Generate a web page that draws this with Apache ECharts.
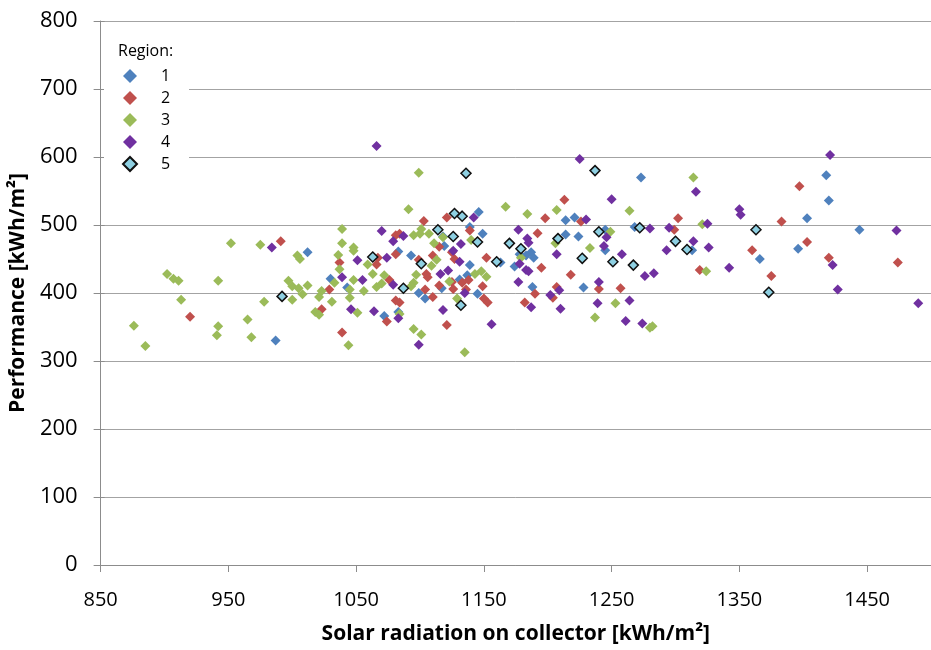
<!DOCTYPE html>
<html>
<head>
<meta charset="utf-8">
<title>Performance vs solar radiation</title>
<script src="https://cdn.jsdelivr.net/npm/echarts@6/dist/echarts.min.js"></script>
<style>
  html, body { margin: 0; padding: 0; background: #fff; }
  #chart { width: 931px; height: 650px; }
</style>
</head>
<body>
<div id="chart"></div>
<script>
// Solar radiation on collector [kWh/m²] vs performance [kWh/m²], one series per region
const region1 = [[987,330],[1012,460],[1146,519],[1118,483],[1139,497],[1149,487],[1083,461],[1030,421],[1043,408],[1093,455],[1119,469],[1139,441],[1137,426],[1131,420],[1117,407],[1099,400],[1104,392],[1145,399],[1072,366],[1083,372],[1273,570],[1214,507],[1221,511],[1178,457],[1187,460],[1189,452],[1183,455],[1174,439],[1188,409],[1214,486],[1224,483],[1245,493],[1245,463],[1268,497],[1313,463],[1228,408],[1163,445],[1418,573],[1420,536],[1403,510],[1444,493],[1396,465],[1366,450]];

const region2 = [[920,365],[991,476],[1121,511],[1103,506],[1081,485],[1084,487],[1139,492],[1037,445],[1067,452],[1066,442],[1081,457],[1029,405],[1076,419],[1106,423],[1105,428],[1099,449],[1110,455],[1115,468],[1127,450],[1125,460],[1152,452],[1138,419],[1115,411],[1125,416],[1126,406],[1104,405],[1110,394],[1081,389],[1084,386],[1133,415],[1136,405],[1149,410],[1150,392],[1153,386],[1023,376],[1074,358],[1039,342],[1121,353],[1213,537],[1198,510],[1226,505],[1302,510],[1192,488],[1195,437],[1190,399],[1182,386],[1218,427],[1319,434],[1240,406],[1257,407],[1207,409],[1204,393],[1299,493],[1397,557],[1383,505],[1403,475],[1360,463],[1420,452],[1474,445],[1375,425]];

const region3 = [[902,428],[907,421],[911,418],[942,418],[913,390],[876,352],[885,322],[942,351],[941,338],[965,361],[968,335],[978,387],[1000,390],[997,418],[1000,410],[1005,407],[1008,398],[1004,455],[1006,450],[952,473],[975,471],[1099,577],[1091,523],[1167,527],[1039,494],[1095,485],[1101,494],[1100,487],[1107,487],[1140,478],[1039,473],[1048,467],[1048,462],[1036,456],[1037,435],[1059,442],[1033,415],[1012,411],[1023,403],[1045,405],[1048,419],[1056,403],[1072,426],[1063,428],[1066,409],[1070,414],[1097,427],[1095,415],[1093,410],[1109,440],[1113,449],[1111,473],[1118,482],[1148,432],[1143,428],[1152,424],[1123,417],[1129,392],[1021,394],[1031,387],[1045,393],[1018,372],[1021,368],[1051,371],[1084,369],[1095,347],[1101,339],[1044,323],[1135,313],[1314,570],[1184,516],[1207,522],[1264,521],[1206,473],[1233,466],[1249,490],[1179,452],[1324,432],[1253,385],[1321,501],[1237,364],[1280,349],[1282,351]];

const region4 = [[984,467],[1066,616],[1142,511],[1070,491],[1087,484],[1132,472],[1079,476],[1051,448],[1074,452],[1039,423],[1055,419],[1079,412],[1131,446],[1126,462],[1116,428],[1122,433],[1046,376],[1064,373],[1083,363],[1099,324],[1118,375],[1135,400],[1156,354],[1225,597],[1316,549],[1250,538],[1230,508],[1177,493],[1184,480],[1185,474],[1178,443],[1183,434],[1185,432],[1177,416],[1207,457],[1246,482],[1244,469],[1258,457],[1280,495],[1295,496],[1314,476],[1293,463],[1326,467],[1325,502],[1276,425],[1283,429],[1240,416],[1209,404],[1202,397],[1239,385],[1264,389],[1187,379],[1210,377],[1261,359],[1274,355],[1421,603],[1350,523],[1351,515],[1473,492],[1423,441],[1342,437],[1427,405],[1490,385]];

const region5 = [[992,395],[1136,576],[1127,517],[1133,513],[1114,493],[1126,483],[1145,475],[1170,473],[1063,453],[1101,443],[1087,407],[1132,382],[1237,580],[1179,465],[1208,480],[1227,451],[1240,490],[1251,446],[1267,441],[1272,496],[1300,476],[1309,464],[1160,446],[1363,493],[1373,401]];

const regionNames = ['1', '2', '3', '4', '5'];
const xTicks = [850, 950, 1050, 1150, 1250, 1350, 1450];

const FONT = '"Open Sans", "DejaVu Sans", sans-serif';
const colors = ['#4F81BD', '#C0504D', '#9BBB59', '#7030A0', '#8ED0E2'];

function regionSeries(name, data, color, bordered) {
  return {
    name: name,
    type: 'scatter',
    data: data,
    symbol: 'diamond',
    symbolSize: 10,
    itemStyle: bordered
      ? { color: color, borderColor: '#111', borderWidth: 1.5, opacity: 1 }
      : { color: color, opacity: 1 },
    emphasis: { disabled: true }
  };
}

const chart = echarts.init(document.getElementById('chart'), null, { renderer: 'canvas' });

chart.setOption({
  animation: false,
  backgroundColor: '#ffffff',
  grid: { left: 100, top: 21, right: -12, bottom: 79, containLabel: false },
  xAxis: {
    type: 'value',
    min: 850,
    max: 1500,
    name: 'Solar radiation on collector [kWh/m²]',
    nameLocation: 'middle',
    nameGap: 59,
    nameTextStyle: { fontFamily: FONT, fontSize: 21, fontWeight: 'bold', color: '#000' },
    axisLine: { show: true, lineStyle: { color: '#8c8c8c', width: 1 } },
    axisTick: { show: true, length: 7, customValues: xTicks, lineStyle: { color: '#8c8c8c' } },
    axisLabel: {
      customValues: xTicks,
      margin: 25,
      fontFamily: FONT,
      fontSize: 20,
      color: '#000',
      formatter: function (v) { return String(v); }
    },
    splitLine: { show: false }
  },
  yAxis: [
    {
      type: 'value',
      min: 0,
      max: 800,
      interval: 100,
      name: 'Performance [kWh/m²]',
      nameLocation: 'middle',
      nameGap: 65,
      nameTextStyle: { fontFamily: FONT, fontSize: 21, fontWeight: 'bold', color: '#000' },
      axisLine: { show: true, lineStyle: { color: '#8c8c8c', width: 1 } },
      axisTick: { show: true, length: 7, lineStyle: { color: '#8c8c8c' } },
      axisLabel: { margin: 23, fontFamily: FONT, fontSize: 22, color: '#000' },
      splitLine: { show: true, lineStyle: { color: '#a3a3a3', width: 1 } }
    },
    {
      // inner half of the crossing tick marks
      type: 'value',
      position: 'left',
      min: 0,
      max: 800,
      interval: 100,
      axisLine: { show: false },
      axisTick: { show: true, inside: true, length: 4, lineStyle: { color: '#8c8c8c' } },
      axisLabel: { show: false },
      splitLine: { show: false }
    }
  ],
  legend: {
    orient: 'vertical',
    left: 122,
    top: 68,
    padding: 0,
    z: 10,
    itemWidth: 14,
    itemHeight: 14,
    itemGap: 6,
    data: regionNames,
    textStyle: { fontFamily: FONT, fontSize: 16, lineHeight: 14, color: '#000', padding: [0, 0, 0, 19] },
    selectedMode: false
  },
  graphic: [
    {
      type: 'rect',
      z: 5,
      shape: { x: 104, y: 38, width: 85, height: 138 },
      style: { fill: '#ffffff' }
    },
    {
      type: 'text',
      z: 11,
      left: 118,
      top: 43,
      style: { text: 'Region:', fontFamily: FONT, fontSize: 16, fill: '#000' }
    }
  ],
  series: [
    regionSeries(regionNames[0], region1, colors[0], false),
    regionSeries(regionNames[1], region2, colors[1], false),
    regionSeries(regionNames[2], region3, colors[2], false),
    regionSeries(regionNames[3], region4, colors[3], false),
    regionSeries(regionNames[4], region5, colors[4], true)
  ]
});
</script>
</body>
</html>
